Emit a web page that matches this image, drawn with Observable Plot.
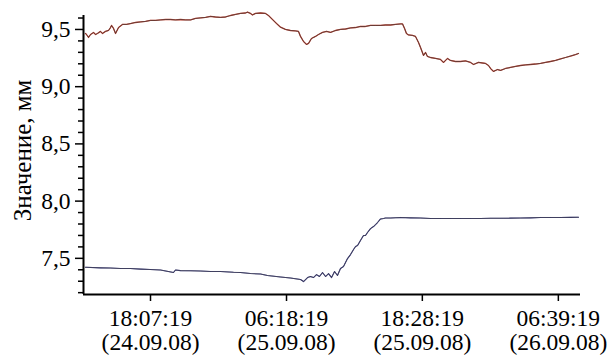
<!DOCTYPE html>
<html>
<head>
<meta charset="utf-8">
<script src="https://cdn.jsdelivr.net/npm/d3@7"></script>
<script src="https://cdn.jsdelivr.net/npm/@observablehq/plot@0.6"></script>
<style>
  html, body { margin: 0; padding: 0; background: white; }
  #chart svg, #chart svg text, #chart svg tspan { font-family: "Liberation Serif", "Times New Roman", serif !important; }
</style>
</head>
<body>
<div id="chart"></div>
<script>
// Time in hours since 24.09.08 00:00
const upperHours = [12.30,12.39,12.57,12.75,13.02,13.20,13.37,13.64,13.82,14.09,14.36,14.54,14.63,14.81,14.99,15.26,15.61,15.97,16.33,16.78,17.23,17.67,18.12,18.57,19.02,19.47,19.91,20.36,20.81,21.26,21.71,22.15,22.60,23.05,23.50,23.94,24.39,24.84,25.29,25.74,26.18,26.63,26.81,27.08,27.26,27.53,27.98,28.42,28.69,29.05,29.41,29.77,30.21,30.66,31.11,31.38,31.56,31.83,32.10,32.28,32.54,32.90,33.17,33.53,33.89,34.25,34.69,35.14,35.59,36.04,36.49,36.93,37.38,37.83,38.28,38.73,39.17,39.62,40.07,40.52,40.70,40.88,41.05,41.23,41.59,41.86,42.13,42.31,42.58,42.76,42.93,43.20,43.65,44.10,44.37,44.73,44.99,45.44,45.89,46.34,46.79,47.06,47.50,47.86,48.13,48.40,48.58,48.85,49.21,49.48,49.92,50.37,50.82,51.27,51.72,52.16,52.61,53.06,53.51,53.95,54.40,54.85,55.30,55.75,56.19,56.46];
const upperValues = [9.465,9.456,9.430,9.456,9.474,9.456,9.465,9.483,9.465,9.483,9.491,9.517,9.535,9.509,9.465,9.517,9.544,9.544,9.552,9.561,9.566,9.570,9.579,9.579,9.583,9.587,9.587,9.583,9.587,9.583,9.583,9.596,9.601,9.605,9.614,9.609,9.605,9.609,9.622,9.631,9.640,9.644,9.651,9.640,9.627,9.640,9.644,9.640,9.622,9.587,9.552,9.520,9.500,9.491,9.487,9.483,9.439,9.395,9.369,9.378,9.421,9.439,9.456,9.474,9.483,9.474,9.491,9.500,9.504,9.513,9.517,9.526,9.526,9.535,9.535,9.535,9.539,9.539,9.544,9.548,9.548,9.509,9.465,9.452,9.448,9.439,9.386,9.343,9.273,9.299,9.264,9.255,9.247,9.238,9.212,9.247,9.229,9.220,9.220,9.225,9.212,9.194,9.212,9.207,9.203,9.185,9.159,9.133,9.150,9.142,9.159,9.168,9.177,9.185,9.190,9.194,9.198,9.203,9.212,9.220,9.229,9.242,9.255,9.268,9.281,9.290];

const lowerHours = [12.30,13.64,14.54,15.43,16.33,17.23,18.12,19.02,20.18,20.36,20.81,21.71,22.60,23.50,24.39,25.56,26.18,27.08,27.98,28.60,29.77,30.66,31.56,31.83,32.19,32.45,32.72,32.99,33.26,33.53,33.80,34.07,34.34,34.61,34.87,35.14,35.41,35.59,35.77,36.04,36.31,36.49,36.67,36.93,37.20,37.38,37.56,37.83,38.10,38.28,38.46,38.73,39.00,39.17,39.62,40.52,41.42,42.31,43.20,44.10,44.99,45.89,46.79,47.68,48.58,49.48,50.37,51.27,52.16,53.06,53.95,54.85,55.75,56.46];
const lowerValues = [7.422,7.417,7.415,7.411,7.411,7.406,7.402,7.398,7.376,7.398,7.393,7.391,7.389,7.385,7.385,7.378,7.376,7.367,7.363,7.350,7.337,7.328,7.315,7.297,7.332,7.341,7.332,7.358,7.341,7.376,7.341,7.367,7.332,7.385,7.350,7.411,7.428,7.463,7.498,7.533,7.577,7.603,7.612,7.656,7.699,7.699,7.726,7.760,7.778,7.795,7.813,7.844,7.848,7.852,7.852,7.857,7.854,7.852,7.848,7.848,7.848,7.848,7.848,7.848,7.850,7.850,7.851,7.852,7.854,7.857,7.857,7.857,7.858,7.859];

const yMajorTicks = [7.5, 8.0, 8.5, 9.0, 9.5];
const yMajorLabels = ["7,5", "8,0", "8,5", "9,0", "9,5"];
const yMinorTicks = [7.2,7.3,7.4,7.6,7.7,7.8,7.9,8.1,8.2,8.3,8.4,8.6,8.7,8.8,8.9,9.1,9.2,9.3,9.4,9.6];
const xTickTimes = ["18:07:19", "06:18:19", "18:28:19", "06:39:19"];
const xTickDays  = ["24.09.08", "25.09.08", "25.09.08", "26.09.08"];
const yLabel = "Значение, мм";
const xDomainHours = [12.12, 56.64];
const yDomain = [7.184, 9.622];

const base = Date.UTC(2008, 8, 24);
const toDate = h => new Date(base + h * 3600000);
const parseTick = (t, d) => {
  const [hh, mm, ss] = t.split(":").map(Number);
  const [dd, mo, yy] = d.split(".").map(Number);
  return new Date(Date.UTC(2000 + yy, mo - 1, dd, hh, mm, ss));
};
const xTicks = xTickTimes.map((t, i) => ({date: parseTick(t, xTickDays[i]), time: t, day: "(" + xTickDays[i] + ")"}));

const upper = upperHours.map((h, i) => ({t: toDate(h), v: upperValues[i]}));
const lower = lowerHours.map((h, i) => ({t: toDate(h), v: lowerValues[i]}));

const font = "Liberation Serif";
const yMid = (yDomain[0] + yDomain[1]) / 2 + 0.04;

const chart = Plot.plot({
  width: 611,
  height: 358,
  marginLeft: 83,
  marginRight: 31,
  marginTop: 15,
  marginBottom: 64,
  style: {fontFamily: "Liberation Serif, serif", fontSize: "23px", background: "white", color: "black"},
  x: {type: "utc", domain: xDomainHours.map(toDate), label: null},
  y: {domain: yDomain, label: null},
  marks: [
    Plot.line(upper, {x: "t", y: "v", stroke: "#c8402e", strokeWidth: 1.3}),
    Plot.line(upper, {x: "t", y: "v", stroke: "#3a3a3a", strokeWidth: 0.7}),
    Plot.line(lower, {x: "t", y: "v", stroke: "#22226e", strokeWidth: 1.1}),
    Plot.line(lower, {x: "t", y: "v", stroke: "#555", strokeWidth: 0.6}),
    Plot.axisY(yMinorTicks, {tickSize: 5, strokeWidth: 1.5, tickFormat: () => "", label: null}),
    Plot.axisY(yMajorTicks, {tickSize: 8, tickPadding: 5, strokeWidth: 1.5, fontSize: 23.5, fontFamily: font,
      tickFormat: d => yMajorLabels[yMajorTicks.indexOf(d)], label: null}),
    Plot.axisX(xTicks.map(d => d.date), {tickSize: 7, strokeWidth: 1.5, tickFormat: () => "", label: null}),
    Plot.text(xTicks, {x: "date", text: "time", frameAnchor: "bottom", dy: 24, lineAnchor: "middle", fontSize: 23.5, fontFamily: font}),
    Plot.text(xTicks, {x: "date", text: "day", frameAnchor: "bottom", dy: 48, lineAnchor: "middle", fontSize: 23.5, fontFamily: font}),
    Plot.ruleX([toDate(xDomainHours[0])], {strokeWidth: 2}),
    Plot.ruleY([yDomain[0]], {strokeWidth: 2}),
    Plot.text([yLabel], {x: () => toDate(xDomainHours[0]), y: () => yMid, dx: -61, rotate: -90, fontSize: 25, fontFamily: font, lineAnchor: "middle", textAnchor: "middle"})
  ]
});
document.getElementById("chart").appendChild(chart);
</script>
</body>
</html>
